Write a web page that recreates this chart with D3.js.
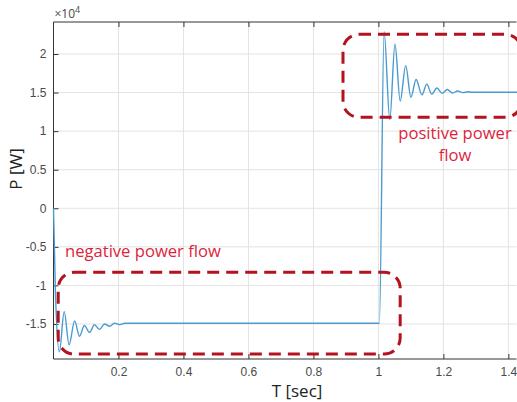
<!DOCTYPE html>
<html>
<head>
<meta charset="utf-8">
<script src="https://cdn.jsdelivr.net/npm/d3@7"></script>
<style>
  body { margin: 0; background: #fff; }
  svg { display: block; font-family: "Open Sans", "DejaVu Sans", sans-serif; }
</style>
</head>
<body>
<script>
"use strict";

// time [s] and power [x1e4 W] at its turning points
const timeNeg = [0, 0.006, 0.018, 0.033, 0.048, 0.065, 0.080, 0.095, 0.111, 0.126, 0.142, 0.157, 0.173, 0.188, 0.204, 0.22, 1.0, 1.003];
const powerNeg = [0.0, -1.1, -1.86, -1.34, -1.77, -1.46, -1.66, -1.52, -1.61, -1.51, -1.57, -1.50, -1.53, -1.49, -1.51, -1.49, -1.49, -1.49];
const timePos = [1.0175, 1.035, 1.051, 1.067, 1.084, 1.100, 1.116, 1.134, 1.149, 1.164, 1.180, 1.196, 1.212, 1.228, 1.244, 1.26, 1.276, 1.29, 1.43];
const powerPos = [2.29, 1.15, 2.13, 1.39, 1.85, 1.44, 1.67, 1.47, 1.61, 1.48, 1.56, 1.49, 1.54, 1.495, 1.52, 1.50, 1.51, 1.505, 1.505];

const xTicks = [0.2, 0.4, 0.6, 0.8, 1, 1.2, 1.4];
const yTicks = [-1.5, -1, -0.5, 0, 0.5, 1, 1.5, 2];

// annotation boxes in data units [t0, t1, p0, p1]
const boxes = [
  [0.0145, 1.067, -0.83, -1.89],
  [0.891, 1.44, 2.255, 1.18]
];

const m = { width: 517, height: 402, left: 53.5, right: 516.5, top: 22, bottom: 359 };

const svg = d3.select("body").append("svg")
  .attr("width", m.width)
  .attr("height", m.height);

const x = d3.scaleLinear().domain([0, 1.425]).range([m.left, m.right]);
const y = d3.scaleLinear().domain([-1.954, 2.415]).range([m.bottom, m.top]);

const axisColor = "#333";
const gridColor = "#e3e3e3";

// grid
svg.append("g").selectAll("line").data(xTicks).enter().append("line")
  .attr("x1", d => x(d)).attr("x2", d => x(d))
  .attr("y1", m.top).attr("y2", m.bottom)
  .attr("stroke", gridColor).attr("stroke-width", 1);
svg.append("g").selectAll("line").data(yTicks).enter().append("line")
  .attr("x1", m.left).attr("x2", m.right)
  .attr("y1", d => y(d)).attr("y2", d => y(d))
  .attr("stroke", gridColor).attr("stroke-width", 1);

// axes (ticks inward, MATLAB style)
const fmt = d => String(d);
const xAxis = svg.append("g")
  .attr("transform", `translate(0,${m.bottom})`)
  .call(d3.axisBottom(x).tickValues(xTicks).tickSize(-5).tickPadding(8).tickFormat(fmt));
const xTop = svg.append("g")
  .attr("transform", `translate(0,${m.top})`)
  .call(d3.axisTop(x).tickValues(xTicks).tickSize(-5).tickFormat(""));
const yAxis = svg.append("g")
  .attr("transform", `translate(${m.left},0)`)
  .call(d3.axisLeft(y).tickValues(yTicks).tickSize(-5).tickPadding(7).tickFormat(fmt));

[xAxis, xTop, yAxis].forEach(a => {
  a.select(".domain").remove();
  a.selectAll("line").attr("stroke", axisColor);
  a.selectAll("text").attr("fill", "#4a4a4a").style("font-size", "12px");
});

// box
svg.append("path")
  .attr("d", `M${m.left},${m.bottom}V${m.top}H${m.right}`)
  .attr("fill", "none").attr("stroke", axisColor).attr("stroke-width", 1);
svg.append("line")
  .attr("x1", m.left).attr("x2", m.right)
  .attr("y1", m.bottom).attr("y2", m.bottom)
  .attr("stroke", axisColor);

// exponent label
const ex = svg.append("text")
  .attr("x", m.left + 1).attr("y", 18)
  .attr("fill", "#4a4a4a").style("font-size", "12px");
ex.append("tspan").text("\u00d710");
ex.append("tspan").attr("dy", -5).style("font-size", "9px").text("4");

// trace
const pts = timeNeg.map((t, i) => [t, powerNeg[i]])
  .concat(timePos.map((t, i) => [t, powerPos[i]]));

const line = d3.line()
  .x(d => x(d[0]))
  .y(d => y(d[1]))
  .curve(d3.curveMonotoneX);

svg.append("path")
  .datum(pts)
  .attr("fill", "none")
  .attr("stroke", "#4a9bd0")
  .attr("stroke-width", 1.4)
  .attr("d", line);

// annotations
svg.append("g").selectAll("rect").data(boxes).enter().append("rect")
  .attr("x", d => x(d[0]))
  .attr("y", d => y(d[2]))
  .attr("width", d => x(d[1]) - x(d[0]))
  .attr("height", d => y(d[3]) - y(d[2]))
  .attr("rx", 16).attr("ry", 16)
  .attr("fill", "none")
  .attr("stroke", "#b3121f")
  .attr("stroke-width", 3)
  .attr("stroke-dasharray", "12,7");

const red = "#dc1f3c";
svg.append("text")
  .attr("x", 65).attr("y", 257)
  .attr("fill", red).style("font-size", "16.6px")
  .text("negative power flow");
svg.append("text")
  .attr("x", 455).attr("y", 139)
  .attr("text-anchor", "middle")
  .attr("fill", red).style("font-size", "16.6px")
  .text("positive power");
svg.append("text")
  .attr("x", 455).attr("y", 161)
  .attr("text-anchor", "middle")
  .attr("fill", red).style("font-size", "16.6px")
  .text("flow");

// axis titles
svg.append("text")
  .attr("x", 297).attr("y", 397)
  .attr("text-anchor", "middle")
  .attr("fill", "#222").style("font-size", "17px")
  .text("T [sec]");
svg.append("text")
  .attr("transform", "translate(22,169) rotate(-90)")
  .attr("text-anchor", "middle")
  .attr("fill", "#222").style("font-size", "17px")
  .text("P [W]");
</script>
</body>
</html>
